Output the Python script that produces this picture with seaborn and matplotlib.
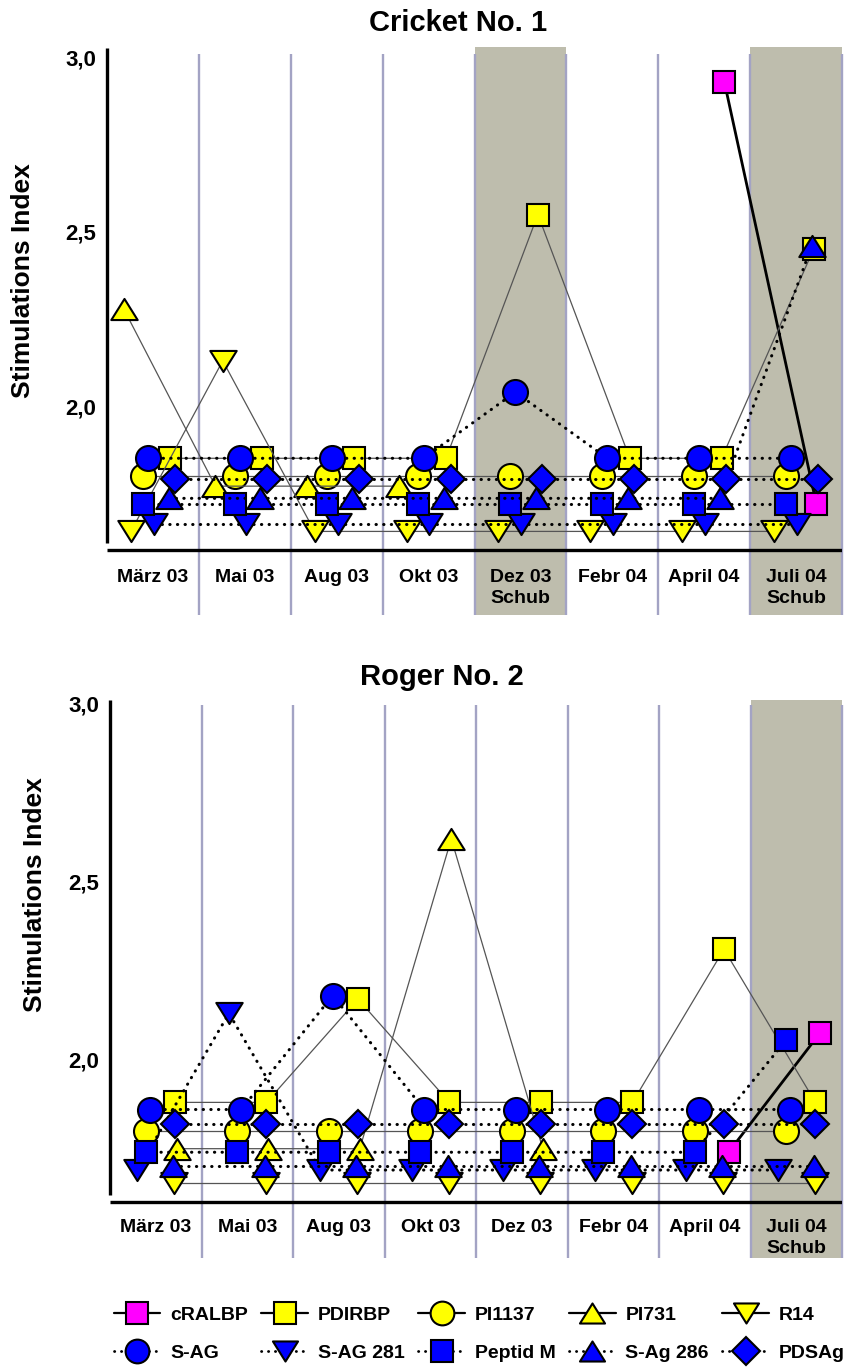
import numpy as np
import pandas as pd
import matplotlib
matplotlib.use("Agg")
import matplotlib.pyplot as plt
import seaborn as sns
from matplotlib.path import Path
from matplotlib.lines import Line2D

# ---------------- data ----------------
categories = ["März 03", "Mai 03", "Aug 03", "Okt 03", "Dez 03", "Febr 04", "April 04", "Juli 04"]
top_sub = ["", "", "", "", "Schub", "", "", "Schub"]
bot_sub = ["", "", "", "", "", "", "", "Schub"]
yticks = [2.0, 2.5, 3.0]
ytick_labels = ["2,0", "2,5", "3,0"]

series_names = ["cRALBP", "PDIRBP", "PI1137", "PI731", "R14",
                "S-AG", "S-AG 281", "Peptid M", "S-Ag 286", "PDSAg"]
nan = np.nan

# Cricket No. 1
c1_cRALBP = [nan, nan, nan, nan, nan, nan, 2.93, 1.72]
c1_PDIRBP = [1.85, 1.85, 1.85, 1.85, 2.55, 1.85, 1.85, 2.45]
c1_PI1137 = [1.80, 1.80, 1.80, 1.80, 1.80, 1.80, 1.80, 1.80]
c1_PI731 = [2.28, 1.77, 1.77, 1.77, nan, nan, nan, nan]
c1_R14 = [1.64, 2.13, 1.64, 1.64, 1.64, 1.64, 1.64, 1.64]
c1_SAG = [1.85, 1.85, 1.85, 1.85, 2.04, 1.85, 1.85, 1.85]
c1_SAG281 = [1.66, 1.66, 1.66, 1.66, 1.66, 1.66, 1.66, 1.66]
c1_PeptidM = [1.72, 1.72, 1.72, 1.72, 1.72, 1.72, 1.72, 1.72]
c1_SAg286 = [1.735, 1.735, 1.735, 1.735, 1.735, 1.735, 1.735, 2.46]
c1_PDSAg = [1.79, 1.79, 1.79, 1.79, 1.79, 1.79, 1.79, 1.79]

# Roger No. 2
r2_cRALBP = [nan, nan, nan, nan, nan, nan, 1.74, 2.075]
r2_PDIRBP = [1.88, 1.88, 2.17, 1.88, 1.88, 1.88, 2.31, 1.88]
r2_PI1137 = [1.80, 1.80, 1.80, 1.80, 1.80, 1.80, 1.80, 1.80]
r2_PI731 = [1.75, 1.75, 1.75, 2.62, 1.75, nan, nan, nan]
r2_R14 = [1.655, 1.655, 1.655, 1.655, 1.655, 1.655, 1.655, 1.655]
r2_SAG = [1.86, 1.86, 2.18, 1.86, 1.86, 1.86, 1.86, 1.86]
r2_SAG281 = [1.69, 2.13, 1.69, 1.69, 1.69, 1.69, 1.69, 1.69]
r2_PeptidM = [1.74, 1.74, 1.74, 1.74, 1.74, 1.74, 1.74, 2.055]
r2_SAg286 = [1.70, 1.70, 1.70, 1.70, 1.70, 1.70, 1.70, 1.70]
r2_PDSAg = [1.82, 1.82, 1.82, 1.82, 1.82, 1.82, 1.82, 1.82]

c1 = dict(zip(series_names, [c1_cRALBP, c1_PDIRBP, c1_PI1137, c1_PI731, c1_R14,
                             c1_SAG, c1_SAG281, c1_PeptidM, c1_SAg286, c1_PDSAg]))
r2 = dict(zip(series_names, [r2_cRALBP, r2_PDIRBP, r2_PI1137, r2_PI731, r2_R14,
                             r2_SAG, r2_SAG281, r2_PeptidM, r2_SAg286, r2_PDSAg]))

# ---------------- styles ----------------
sns.set_theme(style="white")
plt.rcParams["font.family"] = ["Liberation Sans", "DejaVu Sans"]
plt.rcParams["font.weight"] = "bold"
plt.rcParams["text.color"] = "black"
plt.rcParams["axes.labelcolor"] = "black"
plt.rcParams["xtick.color"] = "black"
plt.rcParams["ytick.color"] = "black"

BLUE, YELLOW, PINK = "#0000ff", "#ffff00", "#ff00ff"
SHADE, SEP = "#bebdad", "#a3a3c4"
TRI_UP = Path([(0, 0.8), (-1, -0.8), (1, -0.8), (0, 0.8)], closed=True)
TRI_DN = Path([(0, -0.8), (-1, 0.8), (1, 0.8), (0, -0.8)], closed=True)
DOT = (0, (0.1, 2.4))

styles = {
    "cRALBP":   dict(fc=PINK,   m="s",    ms=16.5, lc="black",   lw=2.0, ls="-"),
    "PDIRBP":   dict(fc=YELLOW, m="s",    ms=16.5, lc="#555555", lw=0.9, ls="-"),
    "PI1137":   dict(fc=YELLOW, m="o",    ms=18,   lc="#555555", lw=0.9, ls="-"),
    "PI731":    dict(fc=YELLOW, m=TRI_UP, ms=19,   lc="#555555", lw=0.9, ls="-"),
    "R14":      dict(fc=YELLOW, m=TRI_DN, ms=19,   lc="#555555", lw=0.9, ls="-"),
    "S-AG":     dict(fc=BLUE,   m="o",    ms=18,   lc="black",   lw=2.2, ls=DOT),
    "S-AG 281": dict(fc=BLUE,   m=TRI_DN, ms=19,   lc="black",   lw=2.2, ls=DOT),
    "Peptid M": dict(fc=BLUE,   m="s",    ms=16.5, lc="black",   lw=2.2, ls=DOT),
    "S-Ag 286": dict(fc=BLUE,   m=TRI_UP, ms=19,   lc="black",   lw=2.2, ls=DOT),
    "PDSAg":    dict(fc=BLUE,   m="D",    ms=14.5, lc="black",   lw=2.2, ls=DOT),
}

# horizontal offsets of each series inside a category slot
off_top = {"cRALBP": 0.22, "PDIRBP": 0.19, "PI1137": -0.11, "PI731": -0.32, "R14": -0.24,
           "S-AG": -0.055, "S-AG 281": 0.01, "Peptid M": -0.11, "S-Ag 286": 0.17, "PDSAg": 0.24}
off_bot = {"cRALBP": 0.26, "PDIRBP": 0.21, "PI1137": -0.11, "PI731": 0.23, "R14": 0.2,
           "S-AG": -0.066, "S-AG 281": -0.2, "Peptid M": -0.11, "S-Ag 286": 0.19, "PDSAg": 0.21}

W, H = 858, 1369
fig = plt.figure(figsize=(W / 100, H / 100), dpi=100)
fig.patch.set_facecolor("white")


def panel(rect_px, ylim, data, offsets, shades, xaxis_v, top_v, lab_v, sub_v, subs):
    l, t, r, b = rect_px
    ax = fig.add_axes([l / W, 1 - b / H, (r - l) / W, (b - t) / H])
    ax.set_facecolor("none")
    ax.set_xlim(-0.5, 7.5)
    ax.set_ylim(*ylim)
    for i in shades:
        ax.axvspan(i - 0.5, i + 0.5, color=SHADE, lw=0, zorder=0)
    ax.vlines(np.arange(len(categories)) + 0.5, ylim[0], top_v - 0.005, color=SEP,
              lw=1.7, zorder=0.5, clip_on=False)
    xs = np.arange(len(categories))
    for name in series_names:
        st = styles[name]
        df = pd.DataFrame({"x": xs + offsets[name], "y": data[name]}).dropna()
        sns.lineplot(data=df, x="x", y="y", ax=ax, estimator=None, sort=False,
                     legend=False, color=st["lc"], linewidth=st["lw"], linestyle=st["ls"],
                     dash_capstyle="round", marker=st["m"], markersize=st["ms"],
                     markerfacecolor=st["fc"], markeredgecolor="black",
                     markeredgewidth=1.5, clip_on=False, zorder=3)
    ax.hlines(xaxis_v, -0.5, 7.5, color="black", lw=2.4, zorder=4)
    ax.vlines(-0.5, xaxis_v + 0.02, top_v + 0.01, color="black", lw=2.4, zorder=4,
              clip_on=False)
    for s in ax.spines.values():
        s.set_visible(False)
    ax.set_xticks([])
    ax.set_yticks(yticks)
    ax.set_yticklabels(ytick_labels, fontsize=16, fontweight="bold", color="black")
    ax.tick_params(axis="y", length=0, pad=8)
    ax.set_xlabel("")
    ax.set_ylabel("")
    for i, c in enumerate(categories):
        ax.text(i, lab_v, c, ha="center", va="center", fontsize=14, fontweight="bold",
                color="black")
        if subs[i]:
            ax.text(i, sub_v, subs[i], ha="center", va="center", fontsize=14,
                    fontweight="bold", color="black")
    ax.grid(False)
    return ax


panel((107, 47, 842, 615), (1.400, 3.031), c1, off_top, [4, 7], 1.587, 3.017,
      1.508, 1.447, top_sub)
panel((110, 700, 842, 1258), (1.443, 3.010), r2, off_bot, [7], 1.601, 3.0,
      1.530, 1.469, bot_sub)

fig.text(458 / W, 1 - 23 / H, "Cricket No. 1", ha="center", va="center",
         fontsize=21, fontweight="bold", color="black")
fig.text(442 / W, 1 - 677 / H, "Roger No. 2", ha="center", va="center",
         fontsize=21, fontweight="bold", color="black")
fig.text(23 / W, 1 - 281 / H, "Stimulations Index", rotation=90, ha="center",
         va="center", fontsize=19, fontweight="bold", color="black")
fig.text(35 / W, 1 - 895 / H, "Stimulations Index", rotation=90, ha="center",
         va="center", fontsize=19, fontweight="bold", color="black")

# legend
handles = {}
for name in series_names:
    st = styles[name]
    solid = st["ls"] == "-"
    handles[name] = Line2D([], [], color="black", lw=1.6 if solid else 2.0,
                           linestyle="-" if solid else DOT, dash_capstyle="round",
                           marker=st["m"], markersize=st["ms"] * 0.95,
                           markerfacecolor=st["fc"], markeredgecolor="black",
                           markeredgewidth=1.5)
order = []
for a, b in zip(series_names[:5], series_names[5:]):
    order += [a, b]
leg = fig.legend([handles[n] for n in order], order, ncol=5, loc="center left",
                 bbox_to_anchor=(104 / W, 1 - 1334 / H), frameon=False, borderpad=0,
                 prop={"size": 14, "weight": "bold"}, handlelength=2.4,
                 handletextpad=0.5, columnspacing=0.7, labelspacing=1.05)
for txt in leg.get_texts():
    txt.set_color("black")

fig.savefig("out.png", dpi=100)
